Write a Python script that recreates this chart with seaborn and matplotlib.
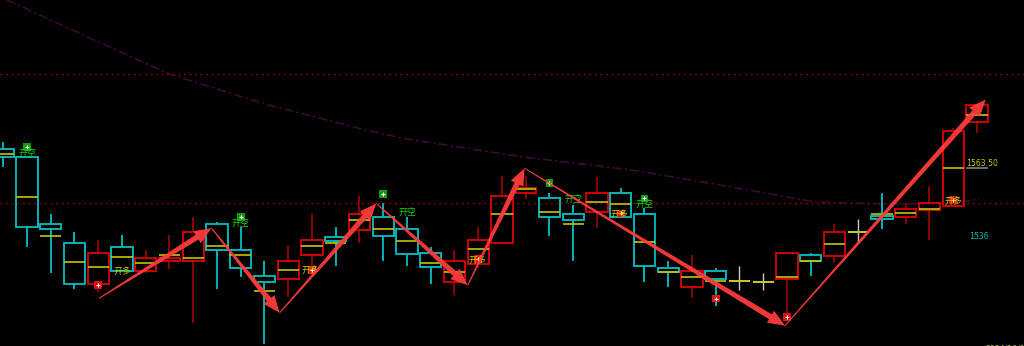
import numpy as np
import pandas as pd
import seaborn as sns
import matplotlib
matplotlib.use("Agg")
import matplotlib.pyplot as plt
from matplotlib.patches import Polygon
from matplotlib.transforms import IdentityTransform

# ---------------- data ----------------
opens  = [1570.6, 1567.6, 1542.0, 1535.0, 1519.1, 1533.2, 1524.0, 1527.9, 1527.9, 1542.0,
          1532.1, 1522.2, 1521.0, 1530.2, 1537.0, 1539.9, 1544.9, 1540.1, 1530.9, 1519.8,
          1526.9, 1535.0, 1553.8, 1551.9, 1545.9, 1546.8, 1553.8, 1545.9, 1525.2, 1518.0,
          1524.2, 1520.5, 1520.1, 1521.1, 1530.2, 1530.0, 1538.9, 1545.3, 1544.9, 1547.5,
          1548.9, 1581.2]
highs  = [1573.5, 1567.6, 1545.9, 1538.9, 1536.0, 1537.9, 1532.2, 1537.9, 1544.7, 1543.0,
          1541.1, 1528.0, 1534.1, 1545.9, 1540.9, 1552.8, 1550.0, 1544.9, 1533.2, 1532.2,
          1541.1, 1560.6, 1560.4, 1554.1, 1549.4, 1559.9, 1555.7, 1548.1, 1528.1, 1530.3,
          1525.4, 1526.2, 1523.4, 1530.9, 1530.9, 1542.0, 1543.9, 1553.8, 1550.0, 1556.7,
          1578.7, 1587.6]
lows   = [1563.8, 1533.2, 1523.4, 1517.2, 1516.3, 1524.0, 1523.3, 1525.0, 1504.2, 1517.2,
          1522.0, 1496.3, 1514.1, 1524.5, 1526.1, 1534.7, 1528.0, 1526.1, 1519.2, 1515.0,
          1525.3, 1535.0, 1551.5, 1537.6, 1528.0, 1540.7, 1544.7, 1519.8, 1517.9, 1514.0,
          1510.9, 1516.9, 1516.9, 1506.7, 1522.3, 1527.1, 1535.4, 1540.1, 1542.0, 1536.0,
          1548.9, 1576.8]
closes = [1567.6, 1540.9, 1540.1, 1519.1, 1530.9, 1524.0, 1529.0, 1529.2, 1538.9, 1532.1,
          1525.2, 1519.8, 1528.1, 1536.0, 1535.7, 1545.9, 1537.6, 1530.8, 1525.8, 1528.1,
          1536.0, 1552.9, 1555.7, 1544.7, 1543.6, 1553.8, 1544.7, 1526.1, 1523.9, 1524.2,
          1521.0, 1520.5, 1520.1, 1530.9, 1527.9, 1538.9, 1538.9, 1543.9, 1547.8, 1550.0,
          1577.5, 1587.6]
mids   = [1568.9, 1552.3, 1537.5, 1527.5, 1525.7, 1529.4, 1527.1, 1530.2, 1529.0, 1533.6,
          1530.2, 1516.5, 1524.4, 1533.6, 1535.0, 1543.6, 1540.3, 1535.5, 1527.1, 1523.8,
          1532.6, 1545.9, 1555.5, 1546.8, 1542.0, 1550.4, 1549.6, 1535.1, 1523.7, 1521.8,
          1520.2, 1520.3, 1520.1, 1522.0, 1528.1, 1534.4, 1538.9, 1545.8, 1546.2, 1547.8,
          1563.6, 1583.7]

# dash-dot trend curve
curve_x = [0.16, 2.5, 7.0, 11.0, 15.1, 16.8, 21.9, 26.5, 30.7, 34.2, 37.7, 40.0, 41.1]
curve_y = [1627.7, 1618.0, 1599.4, 1588.0, 1578.4, 1574.9, 1567.7, 1562.7, 1556.2, 1550.5,
           1549.6, 1550.2, 1551.5]

# horizontal dotted levels
levels = [1599.4, 1550.1]

# signals
short_mark_x = [1, 10, 16, 23, 27]
short_mark_y = [1571.5, 1544.7, 1553.6, 1557.7, 1551.9]
long_mark_x = [4, 13, 20, 26, 30, 33, 40]
long_mark_y = [1518.7, 1524.5, 1528.7, 1546.2, 1513.6, 1506.5, 1551.2]
short_text_x = [1.0, 10.0, 17.0, 24.0, 27.0]
short_text_y = [1569.2, 1542.5, 1546.7, 1551.5, 1549.4]
long_text_x = [5.0, 12.95, 19.97, 25.96, 39.99]
long_text_y = [1523.8, 1524.2, 1528.0, 1545.9, 1550.9]

# zig-zag arrow pivots
pivot_x = [4.03, 8.77, 11.64, 15.71, 19.56, 21.95, 32.92, 41.37]
pivot_y = [1513.7, 1540.5, 1508.2, 1550.0, 1518.7, 1563.4, 1503.3, 1589.7]

price_labels = ["1563.50", "1536"]
price_label_y = [1563.5, 1536.0]

# ---------------- style ----------------
sns.set_style("dark", {"axes.facecolor": "black", "figure.facecolor": "black"})
plt.rcParams["font.family"] = ["Noto Sans CJK SC", "DejaVu Sans"]

CYAN = "#00b4b4"
RED = "#d00000"
RED_WICK = "#8c0000"
YELLOW = "#c8c800"
DOJI = "#c8c8c8"

fig = plt.figure(figsize=(10.24, 3.46), dpi=100, facecolor="black")
ax = fig.add_axes([0, 0, 1, 1])
ax.set_facecolor("black")
ax.set_xlim(-0.1346, 42.98)
ax.set_ylim(1495.5, 1627.7)
ax.axis("off")

df = pd.DataFrame({"o": opens, "h": highs, "l": lows, "c": closes, "m": mids})
df["i"] = np.arange(len(df))
W = 0.9

# levels
for lv in levels:
    ax.axhline(lv, color="#8a0000", lw=1.0, ls=(0, (1.5, 2.5)), zorder=1)

# trend curve
sns.lineplot(x=curve_x, y=curve_y, ax=ax, color="#3e0a3e", lw=1.1, zorder=1,
             linestyle=(0, (6, 2, 1.5, 2)), estimator=None, sort=False)

# candles
for _, r in df.iterrows():
    i = r["i"]
    top, bot = max(r["o"], r["c"]), min(r["o"], r["c"])
    if r["c"] > r["o"]:
        ec, wc = RED, RED_WICK
    elif r["c"] < r["o"]:
        ec, wc = CYAN, CYAN
    else:
        ec, wc = DOJI, DOJI
    if top > bot:
        ax.bar(i, top - bot, bottom=bot, width=W, fill=False, edgecolor=ec,
               linewidth=1.4, zorder=3)
        ax.vlines(i, top, r["h"], color=wc, lw=1.4, zorder=2)
        ax.vlines(i, r["l"], bot, color=wc, lw=1.4, zorder=2)
    else:
        ax.vlines(i, r["l"], r["h"], color=wc, lw=1.0, zorder=2)
        ax.hlines(top, i - W / 2, i + W / 2, color=ec, lw=1.4, zorder=3)
    ax.hlines(r["m"], i - W / 2, i + W / 2, color=YELLOW, lw=1.3, zorder=4, alpha=0.9)

# signal markers
sns.scatterplot(x=short_mark_x, y=short_mark_y, ax=ax, marker="s", s=30,
                color="#109a10", edgecolor="none", zorder=6)
sns.scatterplot(x=short_mark_x, y=short_mark_y, ax=ax, marker="+", s=10,
                color="white", linewidth=0.8, zorder=7)
sns.scatterplot(x=long_mark_x, y=long_mark_y, ax=ax, marker="s", s=30,
                color="#e01010", edgecolor="none", zorder=6)
sns.scatterplot(x=long_mark_x, y=long_mark_y, ax=ax, marker="+", s=10,
                color="white", linewidth=0.8, zorder=7)

for x, y in zip(short_text_x, short_text_y):
    ax.text(x, y, "开空", color="#10d010", fontsize=6.4, ha="center", va="center",
            zorder=8)
for x, y in zip(long_text_x, long_text_y):
    ax.text(x, y, "开多", color=YELLOW, fontsize=6.4, ha="center", va="center",
            zorder=8)

# price labels
ax.text(41.2, price_label_y[0] + 1.8, price_labels[0], color=YELLOW, fontsize=5.6,
        ha="center", va="center", family="DejaVu Sans", zorder=8)
ax.hlines(price_label_y[0], 40.54, 41.46, color="#808080", lw=1.2, zorder=8)
ax.text(41.1, price_label_y[1] + 1.5, price_labels[1], color=CYAN, fontsize=5.6,
        ha="center", va="center", family="DejaVu Sans", zorder=8)

# time label at the bottom-right edge (mostly below the frame, as in the source)
ax.text(42.3, 1496.2, "2024/10/14", color=YELLOW, fontsize=5.6, ha="center",
        va="top", family="DejaVu Sans", zorder=8)

# tapered arrows (drawn in pixel space from data pivots)
fig.canvas.draw()
pts = ax.transData.transform(np.column_stack([pivot_x, pivot_y]))
for k in range(len(pts) - 1):
    p0, p1 = pts[k], pts[k + 1]
    d = p1 - p0
    L = np.hypot(*d)
    u = d / L
    n = np.array([-u[1], u[0]])
    head_len, head_hw, shaft_hw, start_hw = 17.0, 7.0, 2.8, 0.5
    base = p1 - u * head_len
    poly = [p0 + n * start_hw, base + n * shaft_hw, base + n * head_hw, p1,
            base - n * head_hw, base - n * shaft_hw, p0 - n * start_hw]
    ax.add_patch(Polygon(poly, closed=True, transform=IdentityTransform(),
                         facecolor="#ff3c3c", edgecolor="none", alpha=0.95,
                         zorder=9))

fig.savefig("out.png", dpi=100, facecolor="black")
